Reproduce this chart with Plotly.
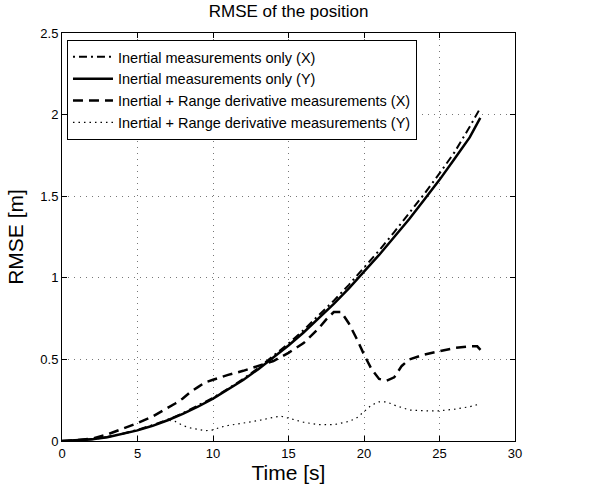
import plotly.graph_objects as go

# Inertial measurements only
t_inertial = [0, 1, 2, 3, 4, 5, 6, 7, 8, 9, 10, 11, 12, 13, 14, 15, 16, 17, 18, 19,
              20, 21, 22, 23, 24, 25, 26, 27, 27.7]
inertial_x = [0, 0.003, 0.011, 0.025, 0.045, 0.068, 0.097, 0.13, 0.17, 0.215, 0.265,
              0.32, 0.38, 0.447, 0.52, 0.597, 0.68, 0.767, 0.86, 0.957, 1.06, 1.167,
              1.28, 1.395, 1.515, 1.64, 1.77, 1.925, 2.04]
inertial_y = [0, 0.003, 0.01, 0.023, 0.042, 0.065, 0.093, 0.127, 0.166, 0.21, 0.26,
              0.315, 0.374, 0.44, 0.51, 0.585, 0.665, 0.75, 0.84, 0.935, 1.035, 1.14,
              1.25, 1.36, 1.48, 1.60, 1.73, 1.86, 1.98]

# Inertial + Range derivative (X)
t_range_x = [0, 1, 2, 3, 4, 5, 6, 7, 7.5, 8, 8.5, 9, 9.5, 10, 11, 12, 13, 14, 15, 16,
             17, 17.5, 18, 18.5, 19, 19.5, 20, 20.5, 21, 21.5, 22, 22.5, 23, 24, 25,
             26, 27, 27.5, 27.8]
range_x = [0, 0.005, 0.015, 0.04, 0.075, 0.11, 0.15, 0.2, 0.23, 0.26, 0.3, 0.33,
           0.36, 0.375, 0.405, 0.43, 0.46, 0.49, 0.54, 0.6, 0.69, 0.745, 0.79, 0.79,
           0.72, 0.63, 0.53, 0.44, 0.38, 0.37, 0.39, 0.46, 0.5, 0.53, 0.55, 0.57,
           0.58, 0.58, 0.55]

# Inertial + Range derivative (Y)
t_range_y = [0, 1, 2, 3, 4, 5, 6, 7, 7.5, 8, 8.5, 9, 9.5, 10, 10.5, 11, 12, 13, 14,
             14.5, 15, 16, 17, 18, 19, 19.5, 20, 20.5, 21, 21.5, 22, 23, 24, 25, 26,
             27, 27.6]
range_y = [0, 0.003, 0.01, 0.023, 0.042, 0.065, 0.093, 0.127, 0.12, 0.095, 0.08,
           0.07, 0.063, 0.068, 0.085, 0.095, 0.11, 0.125, 0.145, 0.152, 0.14, 0.115,
           0.1, 0.1, 0.12, 0.14, 0.18, 0.22, 0.24, 0.24, 0.22, 0.19, 0.185, 0.185,
           0.195, 0.21, 0.225]

x_ticks = [0, 5, 10, 15, 20, 25, 30]
y_ticks = [0, 0.5, 1, 1.5, 2, 2.5]
y_tick_labels = ["0", "0.5", "1", "1.5", "2", "2.5"]

font_family = "Liberation Sans, Arial, Helvetica, sans-serif"

fig = go.Figure()
fig.add_trace(go.Scatter(x=t_inertial, y=inertial_x, mode="lines",
                         name="Inertial measurements only (X)",
                         line=dict(color="black", width=2, dash="2px,4px,8px,4px")))
fig.add_trace(go.Scatter(x=t_inertial, y=inertial_y, mode="lines",
                         name="Inertial measurements only (Y)",
                         line=dict(color="black", width=2.5)))
fig.add_trace(go.Scatter(x=t_range_x, y=range_x, mode="lines",
                         name="Inertial + Range derivative measurements (X)",
                         line=dict(color="black", width=2.5, dash="10px,6px")))
fig.add_trace(go.Scatter(x=t_range_y, y=range_y, mode="lines",
                         name="Inertial + Range derivative measurements (Y)",
                         line=dict(color="black", width=1.2, dash="1.5px,4px")))

axis_common = dict(
    showline=True, linecolor="black", linewidth=1, mirror="allticks",
    ticks="inside", ticklen=5, tickcolor="black",
    showgrid=True, gridcolor="#777777", griddash="1px,5px", gridwidth=1,
    zeroline=False, tickfont=dict(size=13, color="black", family=font_family),
)

fig.update_layout(
    width=589, height=491,
    margin=dict(l=62, r=74, t=33, b=50),
    paper_bgcolor="white", plot_bgcolor="white",
    font=dict(family=font_family, color="black"),
    title=dict(text="RMSE of the position", x=0.49, xanchor="center",
               y=0.99, yanchor="top", font=dict(size=17, color="black")),
    xaxis=dict(range=[0, 30], tickvals=x_ticks,
               title=dict(text="Time [s]", font=dict(size=21), standoff=1),
               **axis_common),
    yaxis=dict(range=[0, 2.5], tickvals=y_ticks, ticktext=y_tick_labels,
               title=dict(text="RMSE [m]", font=dict(size=21), standoff=10),
               **axis_common),
    legend=dict(x=0.011, y=0.983, xanchor="left", yanchor="top",
                bgcolor="white", bordercolor="black", borderwidth=1,
                font=dict(size=14.5, color="black"), tracegroupgap=0,
                itemwidth=40),
    showlegend=True,
)

fig.write_html("out.html")
